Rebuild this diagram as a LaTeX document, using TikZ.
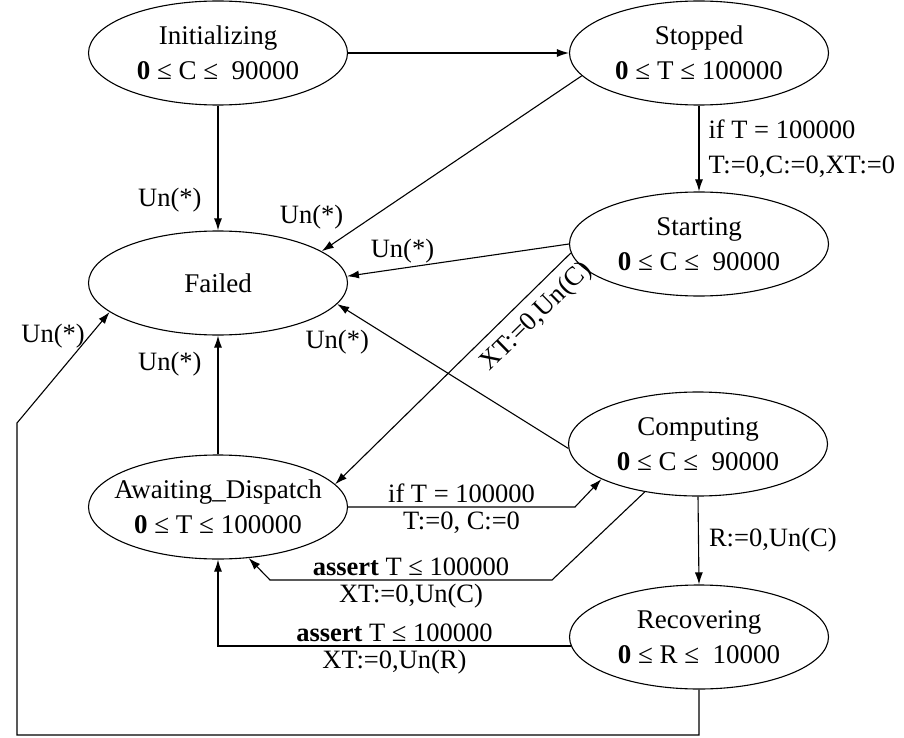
\documentclass[tikz,border=0pt]{standalone}
\usepackage{fontspec}
\setmainfont{Liberation Serif}
\usetikzlibrary{shapes.geometric,arrows.meta}

\tikzset{
  state/.style={draw, ellipse, line width=1.1pt, minimum width=259pt, minimum height=104pt,
    inner xsep=-14pt, inner ysep=0pt, align=center, font=\fontsize{27}{35}\selectfont},
  trans/.style={-{Latex[length=12pt,width=8pt]}, line width=1.1pt},
  lbl/.style={font=\fontsize{26.5}{35}\selectfont, inner sep=4pt}
}

\begin{document}
\begin{tikzpicture}[x=1pt,y=-1pt]
\useasboundingbox (0,0) rectangle (904,738);

%States
\node[state] (init)  at (218,53)  {Initializing\\\textbf{0} ≤ C ≤ \ 90000};
\node[state] (stop)  at (699,53)  {Stopped\\\textbf{0} ≤ T ≤ 100000};
\node[state] (start) at (699,244) {Starting\\\textbf{0} ≤ C ≤ \ 90000};
\node[state] (fail)  at (218,283) {Failed};
\node[state] (comp)  at (698,444) {Computing\\\textbf{0} ≤ C ≤ \ 90000};
\node[state] (await) at (218,507) {Awaiting\_Dispatch\\\textbf{0} ≤ T ≤ 100000};
\node[state] (rec)   at (699,637) {Recovering\\\textbf{0} ≤ R ≤ \ 10000};

%Bends
\coordinate (ac)  at (575,507);
\coordinate (ca1) at (552,580);
\coordinate (ca2) at (270,580);
\coordinate (bl)  at (17,735);
\coordinate (lb)  at (17,423);

%Transitions
\draw[trans] (init.east) -- (stop.west);
\draw[trans] (init.south) -- node[lbl, left, pos=0.76, xshift=-12pt]{Un(*)} (fail.north);
\draw[trans] (stop.191) -- node[lbl, pos=0.9, above left]{Un(*)} (fail.17);
\draw[trans] (stop.south) -- node[lbl, right, align=left, xshift=5pt]{if T = 100000\\T:=0,C:=0,XT:=0} (start.north);
\draw[trans] (start.west) -- node[lbl, pos=0.75, above]{Un(*)} (fail.3);
\draw[trans] (start.184) -- node[lbl, pos=0.21, sloped, below, inner sep=9pt]{XT:=0,Un(C)} (await.11);
\draw[trans] (comp.182) -- node[lbl, pos=1, below=22pt]{Un(*)} (fail.350);
\draw[trans] (await.north) -- node[lbl, left, pos=0.76, xshift=-12pt]{Un(*)} (fail.south);
\draw[trans] (await.east) -- node[lbl, above]{if T = 100000} node[lbl, below]{T:=0, C:=0} (ac) -- (comp.200);
\draw[trans] (comp.222) -- (ca1) -- node[lbl, above]{\textbf{assert} T ≤ 100000} node[lbl, below]{XT:=0,Un(C)} (ca2) -- (await.301);
\draw[trans] (comp.south) -- node[lbl, right, xshift=6pt]{R:=0,Un(C)} (rec.north);
\draw[trans] (rec.184) -| node[lbl, pos=0.25, above]{\textbf{assert} T ≤ 100000} node[lbl, pos=0.25, below]{XT:=0,Un(R)} (await.south);
\draw[trans] (rec.south) |- (bl) -- (lb) -- node[lbl, pos=0.78, left]{Un(*)} (fail.195);

\end{tikzpicture}
\end{document}
